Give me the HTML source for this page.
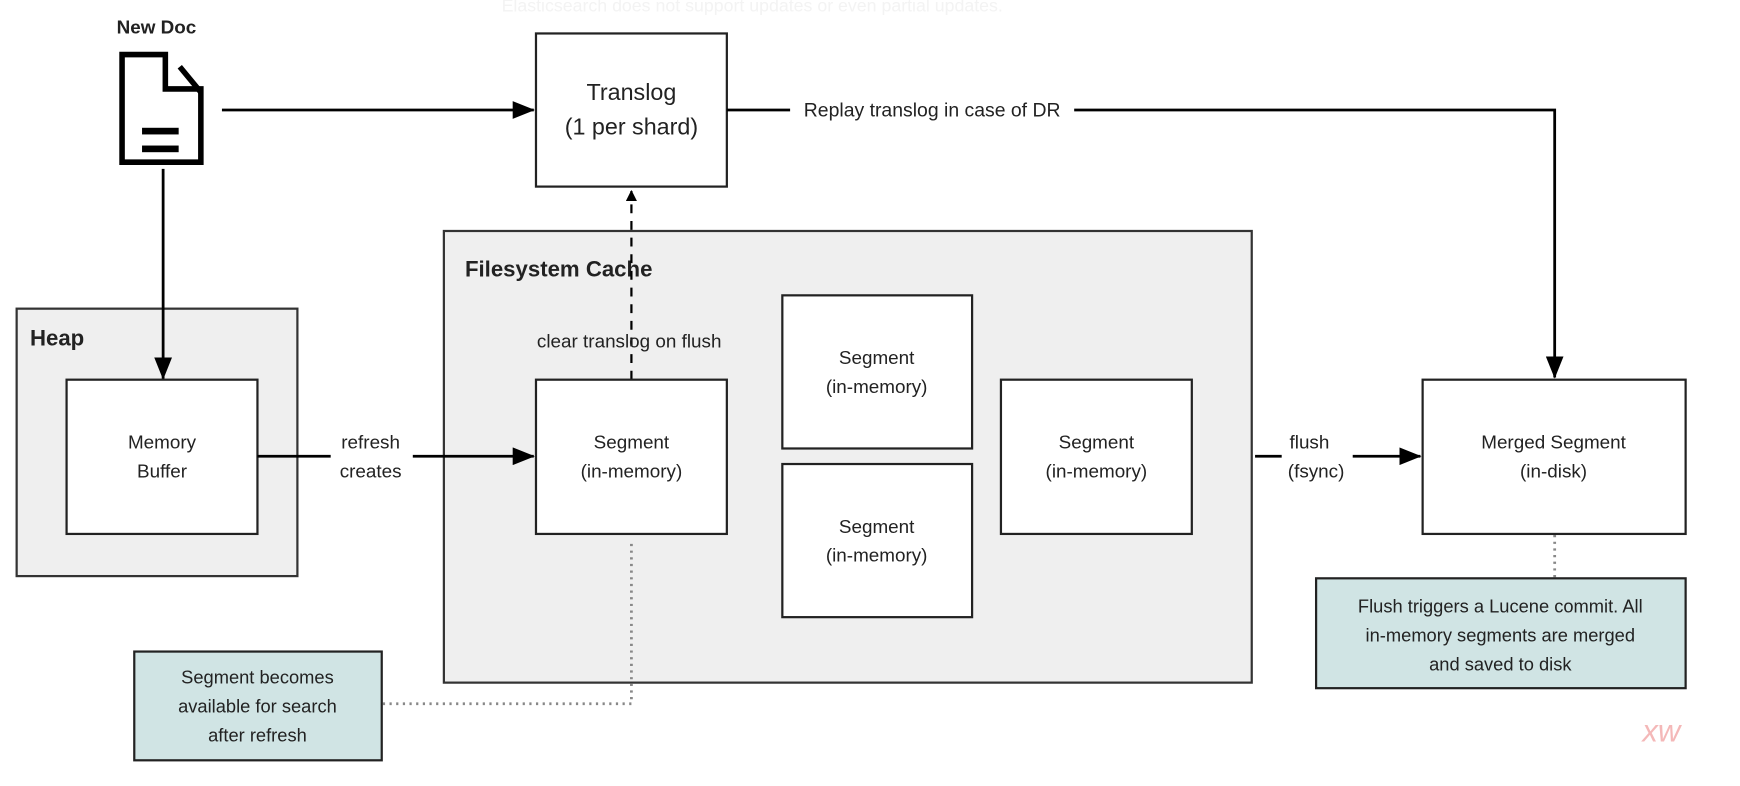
<!DOCTYPE html>
<html><head><meta charset="utf-8">
<style>
html,body{margin:0;padding:0;background:#fff;}
svg{display:block;}
text{font-family:"Liberation Sans",sans-serif;fill:#222;}
</style></head>
<body>
<svg width="1740" height="786" viewBox="0 0 1568 708" xmlns="http://www.w3.org/2000/svg">
<defs>
<marker id="ah" markerWidth="10" markerHeight="10" refX="9" refY="5" orient="auto" markerUnits="userSpaceOnUse">
<path d="M0,0 L10,5 L0,10 Z" fill="#000"/></marker>
<marker id="ah2" markerWidth="20" markerHeight="16" refX="19" refY="8" orient="auto" markerUnits="userSpaceOnUse">
<path d="M0,0 L20,8 L0,16 Z" fill="#000"/></marker>
</defs>
<rect width="1568" height="708" fill="#fff"/>
<text x="452" y="10" font-family="Liberation Serif,serif" font-size="16" style="fill:#f3f3f3">Elasticsearch does not support updates or even partial updates.</text>

<!-- New Doc -->
<text x="141" y="30" text-anchor="middle" font-size="17" font-weight="bold">New Doc</text>
<path d="M110,49 L149,49 L149,80 L181,80 L181,146 L110,146 Z" fill="none" stroke="#000" stroke-width="5"/>
<path d="M162,60 L181,83" stroke="#000" stroke-width="5" fill="none"/>
<rect x="128" y="115" width="33" height="6" fill="#000"/>
<rect x="128" y="131" width="33" height="6" fill="#000"/>

<line x1="200" y1="99" x2="481" y2="99" stroke="#000" stroke-width="2.5" marker-end="url(#ah2)"/>

<!-- Translog -->
<rect x="483" y="30" width="172" height="138" fill="#fff" stroke="#222" stroke-width="2"/>
<text x="569" y="90" text-anchor="middle" font-size="21">Translog</text>
<text x="569" y="121" text-anchor="middle" font-size="21">(1 per shard)</text>

<!-- replay line -->
<line x1="655" y1="99" x2="712" y2="99" stroke="#000" stroke-width="2.5"/>
<text x="840" y="105" text-anchor="middle" font-size="17.5">Replay translog in case of DR</text>
<polyline points="968,99 1401,99 1401,340" fill="none" stroke="#000" stroke-width="2.5" marker-end="url(#ah2)"/>

<!-- Heap -->
<rect x="15" y="278" width="253" height="241" fill="#efefef" stroke="#333" stroke-width="2"/>
<text x="27" y="311" font-size="20" font-weight="bold">Heap</text>
<rect x="60" y="342" width="172" height="139" fill="#fff" stroke="#222" stroke-width="2"/>
<text x="146" y="404" text-anchor="middle" font-size="17">Memory</text>
<text x="146" y="430" text-anchor="middle" font-size="17">Buffer</text>
<line x1="147" y1="152" x2="147" y2="341" stroke="#000" stroke-width="2.5" marker-end="url(#ah2)"/>

<!-- Filesystem cache -->
<rect x="400" y="208" width="728" height="407" fill="#efefef" stroke="#333" stroke-width="2"/>
<text x="419" y="249" font-size="20" font-weight="bold">Filesystem Cache</text>

<!-- refresh -->
<line x1="232" y1="411" x2="298" y2="411" stroke="#000" stroke-width="2.5"/>
<text x="334" y="404" text-anchor="middle" font-size="17">refresh</text>
<text x="334" y="430" text-anchor="middle" font-size="17">creates</text>
<line x1="372" y1="411" x2="481" y2="411" stroke="#000" stroke-width="2.5" marker-end="url(#ah2)"/>

<!-- dashed up arrow -->
<line x1="569" y1="342" x2="569" y2="172" stroke="#000" stroke-width="2" stroke-dasharray="8,7" marker-end="url(#ah)"/>
<text x="567" y="313" text-anchor="middle" font-size="17">clear translog on flush</text>

<!-- Segments -->
<rect x="483" y="342" width="172" height="139" fill="#fff" stroke="#222" stroke-width="2"/>
<text x="569" y="404" text-anchor="middle" font-size="17">Segment</text>
<text x="569" y="430" text-anchor="middle" font-size="17">(in-memory)</text>
<rect x="705" y="266" width="171" height="138" fill="#fff" stroke="#222" stroke-width="2"/>
<text x="790" y="328" text-anchor="middle" font-size="17">Segment</text>
<text x="790" y="354" text-anchor="middle" font-size="17">(in-memory)</text>
<rect x="705" y="418" width="171" height="138" fill="#fff" stroke="#222" stroke-width="2"/>
<text x="790" y="480" text-anchor="middle" font-size="17">Segment</text>
<text x="790" y="506" text-anchor="middle" font-size="17">(in-memory)</text>
<rect x="902" y="342" width="172" height="139" fill="#fff" stroke="#222" stroke-width="2"/>
<text x="988" y="404" text-anchor="middle" font-size="17">Segment</text>
<text x="988" y="430" text-anchor="middle" font-size="17">(in-memory)</text>

<!-- flush -->
<line x1="1131" y1="411" x2="1155" y2="411" stroke="#000" stroke-width="2.5"/>
<text x="1180" y="404" text-anchor="middle" font-size="17">flush</text>
<text x="1186" y="430" text-anchor="middle" font-size="17">(fsync)</text>
<line x1="1219" y1="411" x2="1280" y2="411" stroke="#000" stroke-width="2.5" marker-end="url(#ah2)"/>

<!-- Merged -->
<rect x="1282" y="342" width="237" height="139" fill="#fff" stroke="#222" stroke-width="2"/>
<text x="1400" y="404" text-anchor="middle" font-size="17">Merged Segment</text>
<text x="1400" y="430" text-anchor="middle" font-size="17">(in-disk)</text>

<!-- notes -->
<line x1="1401" y1="482" x2="1401" y2="520" stroke="#888" stroke-width="2.5" stroke-dasharray="2,4"/>
<rect x="1186" y="521" width="333" height="99" fill="#d0e4e4" stroke="#222" stroke-width="2"/>
<text x="1352" y="552" text-anchor="middle" font-size="16.5">Flush triggers a Lucene commit. All</text>
<text x="1352" y="578" text-anchor="middle" font-size="16.5">in-memory segments are merged</text>
<text x="1352" y="604" text-anchor="middle" font-size="16.5">and saved to disk</text>

<polyline points="569,490 569,634 345,634" fill="none" stroke="#888" stroke-width="2.5" stroke-dasharray="2,4"/>
<rect x="121" y="587" width="223" height="98" fill="#d0e4e4" stroke="#222" stroke-width="2"/>
<text x="232" y="616" text-anchor="middle" font-size="16.5">Segment becomes</text>
<text x="232" y="642" text-anchor="middle" font-size="16.5">available for search</text>
<text x="232" y="668" text-anchor="middle" font-size="16.5">after refresh</text>

<text x="1480" y="668" font-size="28" font-style="italic" style="fill:#f4b8b8">xw</text>
</svg>
</body></html>
